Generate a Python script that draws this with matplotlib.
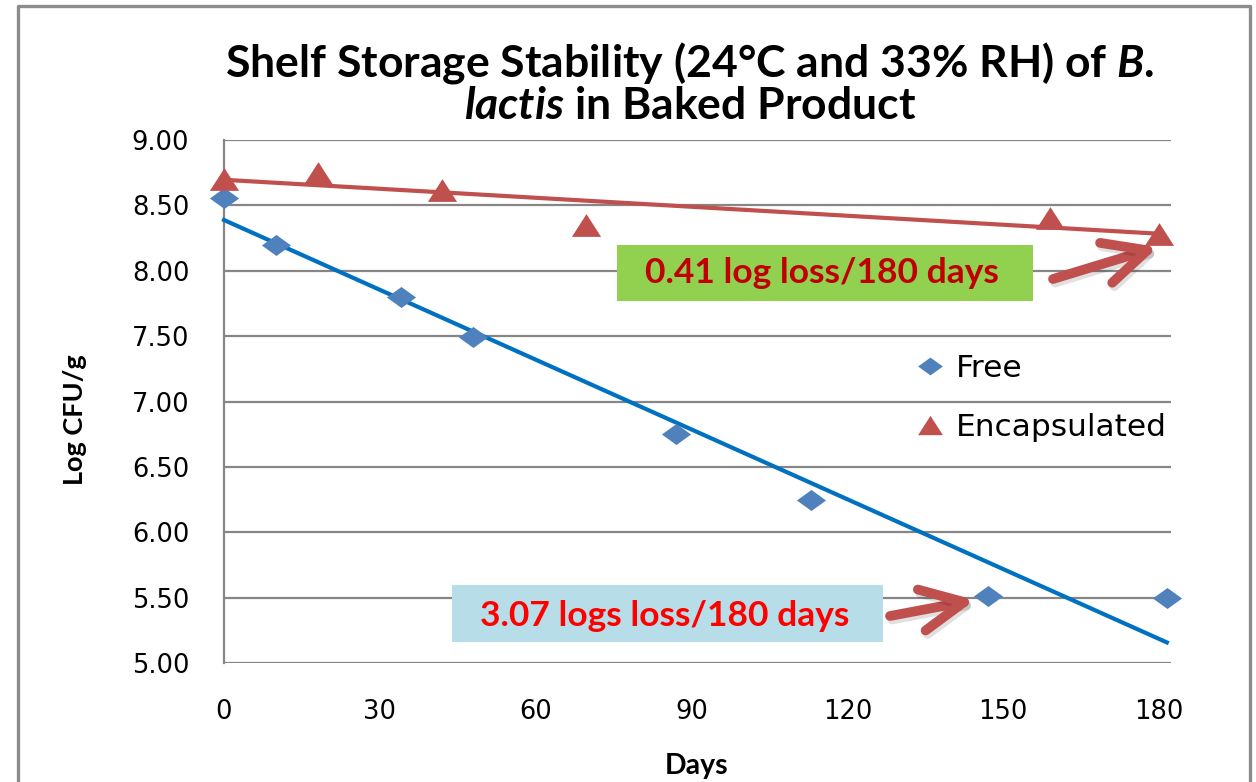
import numpy as np
import matplotlib
matplotlib.use("Agg")
import matplotlib.pyplot as plt
from matplotlib.path import Path
from matplotlib.patches import Rectangle
from matplotlib.lines import Line2D
import matplotlib.patheffects as pe

# ---------------- data ----------------
free_days = [0, 10, 34, 48, 87, 113, 147, 181.5]
free_log = [8.56, 8.20, 7.80, 7.49, 6.75, 6.25, 5.51, 5.50]
enc_days = [0, 18, 42, 69.6, 159, 180]
enc_log = [8.70, 8.75, 8.62, 8.35, 8.40, 8.28]
x_ticks = [0, 30, 60, 90, 120, 150, 180]
y_ticks = [5.00, 5.50, 6.00, 6.50, 7.00, 7.50, 8.00, 8.50, 9.00]
series_names = ["Free", "Encapsulated"]
title_line1 = "Shelf Storage Stability (24°C and 33% RH) of "
title_italic1 = "B."
title_italic2 = "lactis"
title_line2 = " in Baked Product"
enc_note = "0.41 log loss/180 days"
free_note = "3.07 logs loss/180 days"

# ---------------- style ----------------
plt.rcParams["mathtext.fontset"] = "custom"
plt.rcParams["mathtext.it"] = "Lato:italic:bold"
plt.rcParams["mathtext.rm"] = "Lato:bold"
plt.rcParams["mathtext.bf"] = "Lato:bold"

W, H = 1256, 782
fig = plt.figure(figsize=(W / 100, H / 100), dpi=100)
fig.patch.set_facecolor("white")

def fx(px):
    return px / W

def fy(py):
    return 1 - py / H

ax = fig.add_axes([fx(224), fy(663), fx(1171) - fx(224), fy(140) - fy(663)])
ax.set_xlim(0, 182.3)
ax.set_ylim(5.0, 9.0)

grid_c = "#868686"
for yv in y_ticks:
    ax.axhline(yv, color=grid_c, lw=1.6, zorder=1)
for s in ["top", "right", "bottom"]:
    ax.spines[s].set_visible(False)
ax.spines["left"].set_color(grid_c)
ax.spines["left"].set_linewidth(1.6)

ax.set_xticks(x_ticks)
ax.set_xticklabels([str(v) for v in x_ticks])
ax.set_yticks(y_ticks)
ax.set_yticklabels([f"{v:.2f}" for v in y_ticks])
ax.tick_params(axis="both", length=0, labelsize=18.5, colors="black")
ax.tick_params(axis="x", pad=26)
ax.tick_params(axis="y", pad=25)
for lab in ax.get_xticklabels() + ax.get_yticklabels():
    lab.set_fontfamily("DejaVu Sans")

# custom stretched markers
diamond = Path([(-1, 0), (0, 0.72), (1, 0), (0, -0.72), (-1, 0)],
               [Path.MOVETO, Path.LINETO, Path.LINETO, Path.LINETO, Path.CLOSEPOLY])
triangle = Path([(-1, -0.78), (1, -0.78), (0, 0.78), (-1, -0.78)],
                [Path.MOVETO, Path.LINETO, Path.LINETO, Path.CLOSEPOLY])

free_c = "#4F81BD"
enc_c = "#C0504D"

# trend lines (linear fits)
pf = np.polyfit(free_days, free_log, 1)
pe_ = np.polyfit(enc_days, enc_log, 1)
xf = np.array([min(free_days), max(free_days)])
xe = np.array([min(enc_days), max(enc_days)])
ax.plot(xf, np.polyval(pf, xf), color="#0070C0", lw=3.0, zorder=3, clip_on=False)
ax.plot(xe, np.polyval(pe_, xe), color=enc_c, lw=3.0, zorder=3, clip_on=False)

h1, = ax.plot(free_days, free_log, linestyle="none", marker=diamond, markersize=21,
              color=free_c, markeredgewidth=0, zorder=4, clip_on=False, label=series_names[0])
h2, = ax.plot(enc_days, enc_log, linestyle="none", marker=triangle, markersize=21,
              color=enc_c, markeredgewidth=0, zorder=4, clip_on=False, label=series_names[1])

leg = fig.legend(handles=[h1, h2], loc="center left",
                 bbox_to_anchor=(fx(915), fy(398)), frameon=False,
                 prop={"family": "DejaVu Sans", "size": 22.5},
                 handlelength=0.95, handletextpad=0.35, labelspacing=0.98,
                 borderpad=0, borderaxespad=0, numpoints=1, markerscale=0.85)

# ---------------- titles / labels ----------------
title = (title_line1 + r"$\mathit{" + title_italic1 + r"}$" + "\n"
         + r"$\mathit{" + title_italic2 + r"}$" + title_line2)
fig.text(fx(690), fy(83), title, ha="center", va="center", fontsize=32,
         fontfamily="Lato", fontweight="bold", linespacing=0.98)
fig.text(fx(75), fy(420), "Log CFU/g", rotation=90, ha="center", va="center",
         fontsize=19.5, fontfamily="Lato", fontweight="bold")
fig.text(fx(697), fy(766), "Days", ha="center", va="center",
         fontsize=20.5, fontfamily="Lato", fontweight="bold")

# ---------------- annotation boxes ----------------
fig.patches.append(Rectangle((fx(617), fy(301)), fx(1033) - fx(617), fy(245) - fy(301),
                             transform=fig.transFigure, facecolor="#92D050",
                             edgecolor="none", zorder=5))
fig.text(fx(822), fy(273), enc_note, ha="center", va="center", fontsize=25.5,
         fontfamily="Lato", fontweight="bold", color="#C00000", zorder=6)
fig.patches.append(Rectangle((fx(452), fy(642)), fx(883) - fx(452), fy(585) - fy(642),
                             transform=fig.transFigure, facecolor="#B7DEE8",
                             edgecolor="none", zorder=5))
fig.text(fx(665), fy(616), free_note, ha="center", va="center", fontsize=25.5,
         fontfamily="Lato", fontweight="bold", color="#FF0000", zorder=6)

arrow_fx = [pe.SimpleLineShadow(offset=(1.5, -2.5), alpha=0.12, shadow_color="black"),
            pe.Normal()]
for tail, tip in [((1053, 279), (1158, 247)), ((890, 616), (975, 600))]:
    ann = ax.annotate("", xy=(tip[0], H - tip[1]), xycoords="figure pixels",
                      xytext=(tail[0], H - tail[1]), textcoords="figure pixels",
                      arrowprops=dict(arrowstyle="->,head_length=1.55,head_width=0.75",
                                      color=enc_c, lw=7, mutation_scale=20,
                                      shrinkA=0, shrinkB=0, joinstyle="round",
                                      capstyle="round"),
                      zorder=7, annotation_clip=False)
    ann.arrow_patch.set_path_effects(arrow_fx)

# ---------------- outer border ----------------
border_c = "#8C8C8C"
bx = [fx(18), fx(18), fx(1250), fx(1250)]
by = [0, fy(6), fy(6), 0]
fig.add_artist(Line2D(bx, by, transform=fig.transFigure, color=border_c, lw=2.4))

fig.savefig("out.png", dpi=100, facecolor="white")
